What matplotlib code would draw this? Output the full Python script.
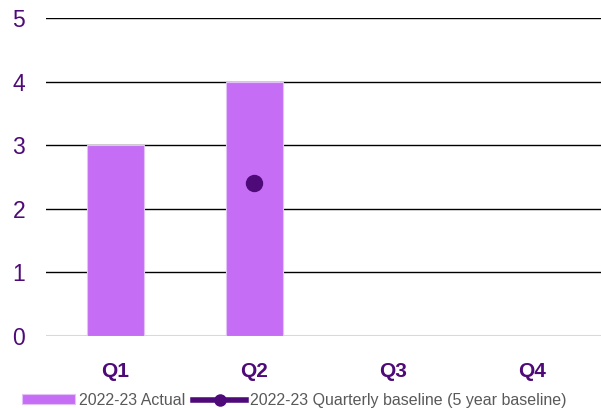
import numpy as np
import matplotlib.pyplot as plt
from matplotlib.lines import Line2D

plt.rcParams['font.family'] = ['Liberation Sans', 'DejaVu Sans']

quarters = ["Q1", "Q2", "Q3", "Q4"]
actual = [3, 4, np.nan, np.nan]
baseline = [np.nan, 2.4, np.nan, np.nan]

bar_color = "#C56EF5"
line_color = "#4E0A78"
text_color = "#4E0A78"

fig = plt.figure(figsize=(6.01, 4.08), dpi=100)
ax = fig.add_axes([46 / 601, 72 / 408, 555 / 601, 318 / 408])

x = np.arange(len(quarters))
bars = ax.bar(x, actual, width=0.41, color=bar_color, edgecolor="#E3C2F8", linewidth=0.8,
              label="2022-23 Actual", zorder=2)
ax.plot(x, baseline, color=line_color, linewidth=3.5, marker="o", markersize=11.5, zorder=3)

ax.set_xlim(-0.5, 3.5)
ax.set_ylim(0, 5)
ax.set_yticks(range(6))
for y in range(1, 6):
    ax.axhline(y, color="black", linewidth=1, zorder=1)
ax.axhline(0, color="#D9D9D9", linewidth=1.5, zorder=1)

for s in ax.spines.values():
    s.set_visible(False)
ax.tick_params(length=0)
ax.tick_params(axis="y", labelsize=16.5, labelcolor=text_color, pad=15)
ax.tick_params(axis="x", labelsize=15, labelcolor=text_color, pad=19)
ax.set_xticks(x)
ax.set_xticklabels(quarters, fontweight="bold")

# smaller marker in the legend key
line_key = Line2D([], [], color=line_color, linewidth=4, marker="o", markersize=8,
                  label="2022-23 Quarterly baseline (5 year baseline)")
fig.legend(handles=[bars, line_key], loc="lower center", bbox_to_anchor=(0.49, -0.035), ncol=2,
           frameon=False, fontsize=11.5, handlelength=3.3, handleheight=0.6,
           handletextpad=0.25, columnspacing=0.5, labelcolor="#595959")

fig.savefig("out.png", dpi=100)
